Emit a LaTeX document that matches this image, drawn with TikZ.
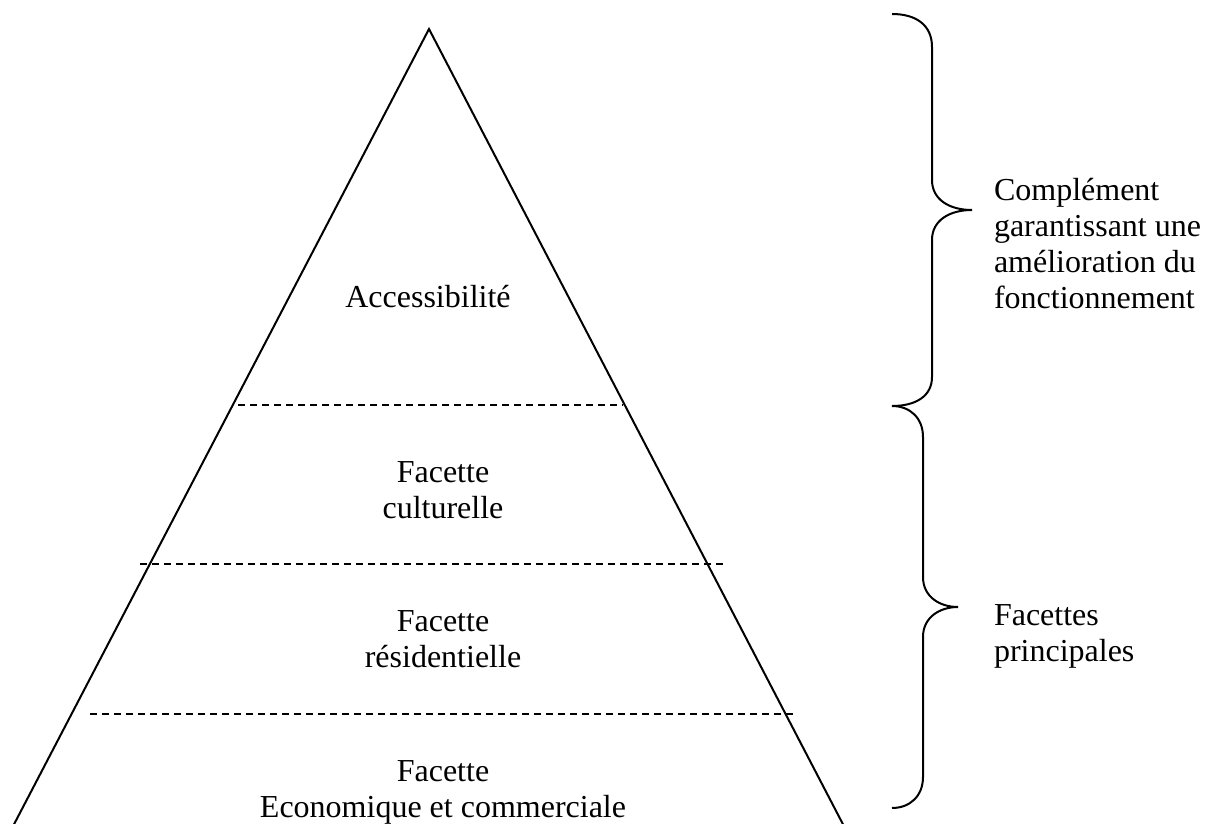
\documentclass[tikz,border=0pt]{standalone}
\usepackage{fontspec}
\setmainfont{Liberation Serif}
\usetikzlibrary{positioning}

\begin{document}
\begin{tikzpicture}[x=0.5pt, y=-0.5pt, line width=1pt,
	lbl/.style={font=\fontsize{16}{18}\selectfont, align=center, inner sep=0pt},
	side/.style={lbl, align=left, anchor=west},
	level/.style={dash pattern=on 3.5pt off 2.5pt}]
	\clip (0,0) rectangle (1216,824);
	% pyramid
	\coordinate (top) at (429,29);
	\coordinate (bl) at (10,832);
	\coordinate (br) at (847,832);
	\draw (bl) -- (top) -- (br);
	\foreach \y/\a/\b in {405/238/623, 564/140/723, 714/90/795} {
		\draw[level] (\a,\y) -- (\b,\y);
	}
	% levels
	\node[lbl] (acc) at (428,297) {Accessibilité};
	\node[lbl] (cult) at (443,490) {Facette\\culturelle};
	\node[lbl] (res) at (443,639) {Facette\\résidentielle};
	\node[lbl] (eco) at (443,792) {Facette\\Economique et commerciale};
	% braces
	\draw (892,14) .. controls (916,14) and (932,25) .. (932,47) -- (932,180)
		.. controls (932,200) and (950,210) .. (972,210)
		.. controls (950,210) and (932,220) .. (932,240) -- (932,377)
		.. controls (932,396) and (916,406) .. (892,406);
	\draw (892,406) .. controls (910,406) and (923,418) .. (923,437) -- (923,577)
		.. controls (923,597) and (940,607) .. (958,607)
		.. controls (940,607) and (923,617) .. (923,637) -- (923,777)
		.. controls (923,796) and (910,808) .. (892,808);
	\node[side] (compl) at (993,244) {Complément\\garantissant une\\amélioration du\\fonctionnement};
	\node[side] (princ) at (993,636) {Facettes\\principales};
\end{tikzpicture}
\end{document}
